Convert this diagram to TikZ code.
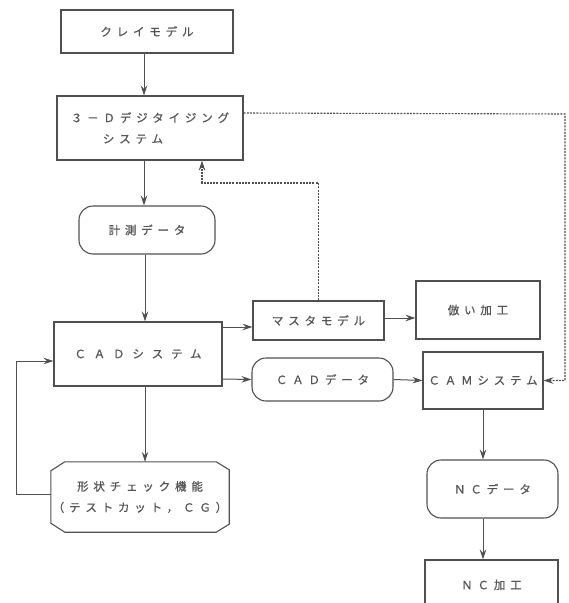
\documentclass[tikz,border=0pt]{standalone}
\usepackage{fontspec}
\newfontfamily\jp[LetterSpace=42,FakeBold=0.8]{Noto Sans CJK JP}
\newfontfamily\jpw[LetterSpace=68,FakeBold=0.8]{Noto Sans CJK JP}
\usetikzlibrary{arrows.meta}
\definecolor{ln}{HTML}{505050}
\definecolor{tx}{HTML}{555555}
\tikzset{
  box/.style={draw=ln, line width=1.1pt, inner sep=0pt, align=center},
  rbox/.style={box, rounded corners=14pt},
  arr/.style={draw=ln, line width=1pt, -{Stealth[length=10pt,width=6.5pt,inset=3.5pt]}},
  dsh/.style={draw=ln, line width=1.1pt, dash pattern=on 2pt off 1.2pt},
}
\begin{document}
\begin{tikzpicture}[x=1pt, y=-1pt, font=\jp\fontsize{11.5}{21}\selectfont, text=tx]
\useasboundingbox (0,0) rectangle (569,603);
\clip (0,0) rectangle (569,603);
% nodes
\node[box, minimum width=172pt, minimum height=43pt] (clay) at (147,31.5) {クレイモデル};
\node[box, minimum width=186pt, minimum height=64pt, align=left] (dig) at (150,128) {３－Ｄデジタイジング\\\hspace*{32pt}システム};
\node[rbox, minimum width=136pt, minimum height=48pt] (meas) at (147,230) {計測データ};
\node[box, minimum width=168pt, minimum height=64pt, font=\jpw\fontsize{11.5}{21}\selectfont] (cad) at (138,354) {ＣＡＤシステム};
\node[box, minimum width=131pt, minimum height=39pt] (master) at (318.5,320.5) {マスタモデル};
\node[box, minimum width=124pt, minimum height=58pt] (copy) at (478,310) {倣い加工};
\node[rbox, minimum width=141pt, minimum height=43pt] (caddata) at (322.5,379.5) {ＣＡＤデータ};
\node[box, minimum width=120pt, minimum height=57pt] (cam) at (483,380.5) {ＣＡＭシステム};
\node[rbox, minimum width=131pt, minimum height=58pt] (ncdata) at (492.5,489) {ＮＣデータ};
\node[box, minimum width=133pt, minimum height=50pt] (nc) at (491.5,585) {ＮＣ加工};
\node[inner sep=0pt, align=center, minimum width=178pt, minimum height=70pt] (shape) at (140,497) {形状チェック機能\\（テストカット，ＣＧ）};
\draw[draw=ln, line width=1.1pt] ([xshift=14pt]shape.north west) -- ([xshift=-13pt]shape.north east)
  -- ([yshift=-8pt]shape.north east) -- ([yshift=8pt]shape.south east)
  -- ([xshift=-13pt]shape.south east) -- ([xshift=14pt]shape.south west)
  -- ([yshift=9pt]shape.south west) -- ([yshift=-9pt]shape.north west) -- cycle;
% coordinates
\coordinate (fb) at (16,494);
\coordinate (dr) at (565,114);
\coordinate (mc) at (202,183);
% solid connectors
\draw[arr] ([xshift=-3pt]clay.south) -- ([xshift=-6pt]dig.north);
\draw[arr] ([xshift=-6pt]dig.south) -- ([xshift=-3pt]meas.north);
\draw[arr] ([xshift=-2pt]meas.south) -- ([xshift=7pt]cad.north);
\draw[arr] ([xshift=7pt]cad.south) -- ([xshift=5pt]shape.north);
\draw[arr] ([yshift=27pt]cad.east) -- ([yshift=-6.5pt]master.west);
\draw[arr] ([yshift=-25pt]cad.east) -- (caddata.west);
\draw[arr] ([yshift=2.5pt]master.east) -- ([yshift=-8pt]copy.west);
\draw[arr] (caddata.east) -- (cam.west);
\draw[arr] (cam.south) -- ([xshift=-9.5pt]ncdata.north);
\draw[arr] ([xshift=-9.5pt]ncdata.south) -- ([xshift=-8.5pt]nc.north);
\draw[arr] ([yshift=3pt]shape.west) -- (fb) |- ([yshift=-7pt]cad.west);
% dashed connectors
\draw[dsh, -{Stealth[length=10pt,width=6.5pt,inset=3.5pt]}] ([yshift=15pt]dig.east) -- (dr) |- (cam.east);
\draw[dsh, -{Stealth[length=10pt,width=6.5pt,inset=3.5pt]}] (master.north) |- (mc) -- ([xshift=52pt]dig.south);
\end{tikzpicture}
\end{document}
